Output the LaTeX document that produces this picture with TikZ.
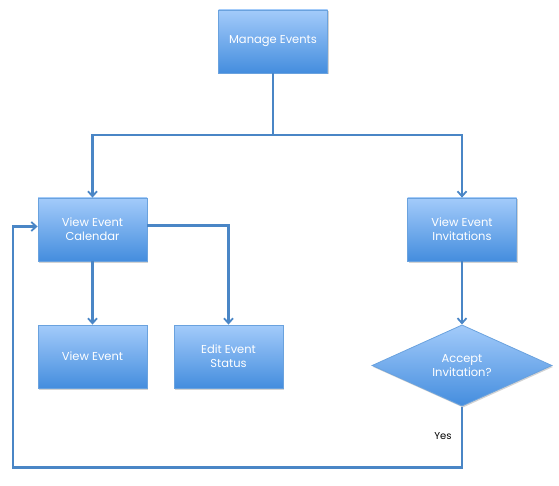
\documentclass[tikz,border=0pt]{standalone}
\usepackage{fontspec}
\setmainfont{Poppins}
\usetikzlibrary{shapes.geometric,arrows.meta,shadows}
\definecolor{boxtop}{HTML}{A3CBFA}
\definecolor{boxbot}{HTML}{448DDE}
\definecolor{boxedge}{HTML}{6AA2DE}
\definecolor{linec}{HTML}{4A86C6}
\tikzset{
  procbox/.style={rectangle, draw=boxedge, line width=0.8pt, top color=boxtop, bottom color=boxbot,
    minimum width=109pt, minimum height=63pt, text=white, font=\fontsize{11.5}{14}\selectfont,
    align=center, drop shadow={opacity=0.35, shadow xshift=1pt, shadow yshift=-1.5pt}},
  decbox/.style={diamond, draw=boxedge, line width=0.8pt, top color=boxtop, bottom color=boxbot,
    minimum width=180pt, minimum height=81pt, inner sep=0pt, text=white, font=\fontsize{11.5}{14}\selectfont,
    align=center, drop shadow={opacity=0.35, shadow xshift=1pt, shadow yshift=-1.5pt}},
  conn/.style={draw=linec, line width=2.3pt},
  arr/.style={conn, -{Straight Barb[length=5pt,width=9pt,line width=1.8pt]}},
}
\begin{document}
\begin{tikzpicture}[x=1pt,y=-1pt]
\useasboundingbox (0,0) rectangle (559,486);
\node[procbox] (me) at (273,41.5) {Manage Events};
\node[procbox] (vec) at (92.5,229.5) {View Event\\Calendar};
\node[procbox] (vei) at (462,229.5) {View Event\\Invitations};
\node[procbox] (ve) at (92.5,356.5) {View Event};
\node[procbox] (ees) at (228.5,356.5) {Edit Event\\Status};
\node[decbox] (acc) at (462,365.5) {Accept\\Invitation?};
\node[font=\fontsize{10}{12}\selectfont, text=black] (yes) at (443,436) {Yes};
\coordinate (j) at (273,135);
\coordinate (b1) at (462,467.5);
\coordinate (b2) at (13,467.5);
\coordinate (b3) at (13,226.5);
\coordinate (vecr) at (147,225.5);
\draw[conn] (me.south) -- (j);
\draw[arr] (j) -| (vec.north);
\draw[arr] (j) -| (vei.north);
\draw[arr] (vecr) -| (ees.north);
\draw[arr] (vec.south) -- (ve.north);
\draw[arr] (vei.south) -- (acc.north);
\draw[arr] (acc.south) -- (b1) -- (b2) -- (b3) -- (vec.west |- b3);
\end{tikzpicture}
\end{document}
